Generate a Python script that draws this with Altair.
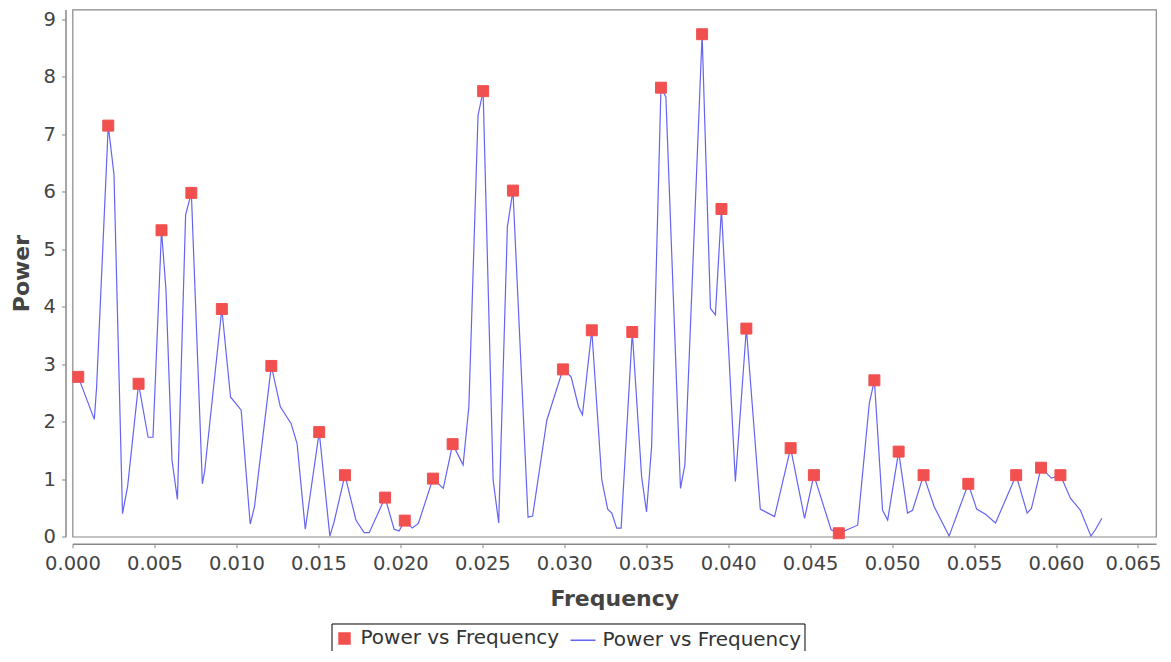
import altair as alt
import pandas as pd

# Periodogram line (frequency, power) vertices
freq = [0.00035, 0.00133, 0.00147, 0.00218, 0.00253, 0.00305, 0.00336, 0.00403, 0.00461, 0.00491,
        0.00543, 0.00570, 0.00607, 0.00640, 0.00690, 0.00725, 0.00792, 0.00806, 0.00911, 0.00964,
        0.01029, 0.01084, 0.01110, 0.01213, 0.01268, 0.01333, 0.01370, 0.01420, 0.01505, 0.01570,
        0.01596, 0.01662, 0.01729, 0.01779, 0.01810, 0.01907, 0.01962, 0.01992, 0.02027, 0.02073,
        0.02110, 0.02199, 0.02262, 0.02319, 0.02383, 0.02418, 0.02474, 0.02505, 0.02566, 0.02600,
        0.02653, 0.02687, 0.02779, 0.02807, 0.02894, 0.02992, 0.03042, 0.03087, 0.03111, 0.03168,
        0.03229, 0.03265, 0.03290, 0.03320, 0.03347, 0.03415, 0.03472, 0.03502, 0.03533, 0.03590,
        0.03620, 0.03709, 0.03736, 0.03841, 0.03892, 0.03922, 0.03959, 0.04044, 0.04111, 0.04196,
        0.04283, 0.04381, 0.04466, 0.04523, 0.04628, 0.04675, 0.04790, 0.04861, 0.04892, 0.04942,
        0.04973, 0.05040, 0.05094, 0.05125, 0.05192, 0.05257, 0.05348, 0.05465, 0.05516, 0.05570,
        0.05631, 0.05757, 0.05824, 0.05850, 0.05909, 0.05972, 0.06027, 0.06088, 0.06149, 0.06213,
        0.06240, 0.06280]
power = [2.78, 2.04, 2.60, 7.15, 6.30, 0.40, 0.87, 2.66, 1.73, 1.73,
         5.33, 4.30, 1.33, 0.65, 5.60, 5.98, 0.92, 1.13, 3.96, 2.43,
         2.20, 0.22, 0.52, 2.97, 2.26, 1.97, 1.62, 0.13, 1.82, 0.01,
         0.26, 1.07, 0.29, 0.07, 0.07, 0.68, 0.13, 0.10, 0.28, 0.15,
         0.23, 1.01, 0.84, 1.61, 1.25, 2.26, 7.33, 7.75, 0.99, 0.24,
         5.39, 6.02, 0.34, 0.36, 2.03, 2.91, 2.78, 2.26, 2.12, 3.59,
         0.99, 0.48, 0.41, 0.15, 0.15, 3.56, 1.04, 0.43, 1.57, 7.81,
         7.65, 0.84, 1.25, 8.74, 3.97, 3.86, 5.70, 0.96, 3.62, 0.48,
         0.35, 1.54, 0.32, 1.07, 0.12, 0.06, 0.20, 2.32, 2.72, 0.46,
         0.29, 1.48, 0.41, 0.46, 1.07, 0.52, 0.01, 0.92, 0.48, 0.39,
         0.24, 1.07, 0.41, 0.49, 1.20, 1.02, 1.07, 0.67, 0.46, 0.01,
         0.12, 0.32]

# Local peaks marked with squares
peak_freq = [0.00035, 0.00218, 0.00403, 0.00543, 0.00725, 0.00911, 0.01213, 0.01505, 0.01662,
             0.01907, 0.02027, 0.02199, 0.02319, 0.02505, 0.02687, 0.02992, 0.03168, 0.03415,
             0.03590, 0.03841, 0.03959, 0.04111, 0.04381, 0.04523, 0.04675, 0.04892, 0.05040,
             0.05192, 0.05465, 0.05757, 0.05909, 0.06027]
peak_power = [2.78, 7.15, 2.66, 5.33, 5.98, 3.96, 2.97, 1.82, 1.07,
              0.68, 0.28, 1.01, 1.61, 7.75, 6.02, 2.91, 3.59, 3.56,
              7.81, 8.74, 5.70, 3.62, 1.54, 1.07, 0.06, 2.72, 1.48,
              1.07, 0.92, 1.07, 1.20, 1.07]

x_ticks = [0.0, 0.005, 0.01, 0.015, 0.02, 0.025, 0.03, 0.035, 0.04, 0.045, 0.05, 0.055, 0.06, 0.065]
y_ticks = [0, 1, 2, 3, 4, 5, 6, 7, 8, 9]
series = ["markers", "line"]

line_df = pd.DataFrame({"Frequency": freq, "Power": power})
peak_df = pd.DataFrame({"Frequency": peak_freq, "Power": peak_power, "series": "markers"})

FONT = "DejaVu Sans"
RED = "#F24F4F"
BLUE = "#6464F5"
AXIS_GRAY = "#888888"

x_enc = alt.X("Frequency:Q",
              scale=alt.Scale(domain=[0, 0.0661], nice=False, zero=False),
              axis=alt.Axis(title="Frequency", values=x_ticks, format=".3f", grid=False,
                            offset=7, tickSize=4, labelPadding=7, titlePadding=15,
                            labelFlush=False, labelFont=FONT, labelFontSize=19.5,
                            labelOffset={"condition": {"test": "datum.value > 0.064", "value": -5},
                                         "value": 0},
                            labelColor="#444444", titleFont=FONT, titleFontSize=22,
                            titleFontWeight="bold", titleColor="#444444",
                            domainColor=AXIS_GRAY, tickColor=AXIS_GRAY, domainWidth=1.5))
y_enc = alt.Y("Power:Q",
              scale=alt.Scale(domain=[0, 9.17], nice=False),
              axis=alt.Axis(title="Power", values=y_ticks, format="d", grid=False,
                            offset=7, tickSize=4, labelPadding=6, titlePadding=10,
                            labelFlush=False, labelFont=FONT, labelFontSize=19.5,
                            labelColor="#444444", titleFont=FONT, titleFontSize=22,
                            titleFontWeight="bold", titleColor="#444444",
                            domainColor=AXIS_GRAY, tickColor=AXIS_GRAY, domainWidth=1.5))

legend = alt.Legend(
    title=None, orient="none", legendX=259, legendY=614, direction="horizontal",
    labelExpr="'Power vs Frequency'", labelFont=FONT, labelFontSize=20,
    labelColor="#333333", labelOffset=6, columnPadding=8, padding=3,
    strokeColor="#000000", labelLimit=400, symbolStrokeWidth=1.5, symbolOpacity=1,
)

line = alt.Chart(line_df).mark_line(strokeWidth=1.2, interpolate="linear", color=BLUE).encode(
    x=x_enc, y=y_enc, order=alt.Order("Frequency:Q"))

pts = alt.Chart(peak_df).mark_point(filled=True, opacity=1, strokeWidth=1).encode(
    x=x_enc, y=y_enc,
    color=alt.Color("series:N", scale=alt.Scale(domain=series, range=[RED, BLUE]), legend=legend),
    stroke=alt.Stroke("series:N", scale=alt.Scale(domain=series, range=[RED, BLUE]), legend=legend),
    shape=alt.Shape("series:N", scale=alt.Scale(domain=series, range=["square", "stroke"]), legend=legend),
    size=alt.Size("series:N", scale=alt.Scale(domain=series, range=[120, 625]), legend=legend),
)

chart = alt.layer(line, pts).properties(
    width=1083.5, height=527.2,
    background="white",
    autosize=alt.AutoSizeParams(type="none"),
    padding={"left": 64.5, "top": 1.5, "right": 7, "bottom": 114.5},
).configure_view(
    stroke=AXIS_GRAY, strokeWidth=1.2
)

chart.save("out.html", embed_options={"renderer": "svg", "actions": False})
